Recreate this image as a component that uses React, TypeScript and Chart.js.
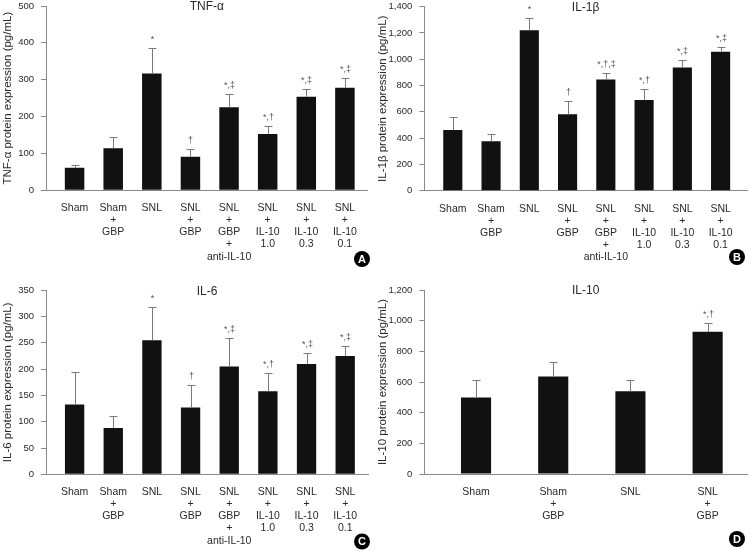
import React, { useEffect, useRef } from "react";
import { Chart, registerables } from "chart.js";

Chart.register(...registerables);

const FONT = '"Liberation Sans Narrow", "Liberation Sans", Arial, sans-serif';
const AXIS = "#8a8a8a";
const TXT = "#2a2a2a";
const ERR = "#7a7a7a";
const BAR = "#111111";

// Categories
const groups8: string[][] = [
  ["Sham"],
  ["Sham", "+", "GBP"],
  ["SNL"],
  ["SNL", "+", "GBP"],
  ["SNL", "+", "GBP", "+", "anti-IL-10"],
  ["SNL", "+", "IL-10", "1.0"],
  ["SNL", "+", "IL-10", "0.3"],
  ["SNL", "+", "IL-10", "0.1"],
];
const groups4: string[][] = [["Sham"], ["Sham", "+", "GBP"], ["SNL"], ["SNL", "+", "GBP"]];

// Panel A: TNF-α
const tnfMean = [61, 114, 317, 91, 225, 153, 254, 278];
const tnfSD = [7, 30, 68, 22, 37, 21, 20, 26];
const tnfSig = ["", "", "*", "†", "*,‡", "*,†", "*,‡", "*,‡"];

// Panel B: IL-1β
const il1bMean = [462, 376, 1220, 581, 847, 690, 938, 1058];
const il1bSD = [96, 53, 94, 99, 46, 81, 59, 38];
const il1bSig = ["", "", "*", "†", "*,†,‡", "*,†", "*,‡", "*,‡"];

// Panel C: IL-6
const il6Mean = [133, 88, 255, 127, 205, 158, 210, 225];
const il6SD = [62, 22, 64, 42, 54, 35, 21, 20];
const il6Sig = ["", "", "*", "†", "*,‡", "*,†", "*,‡", "*,‡"];

// Panel D: IL-10
const il10Mean = [499, 636, 540, 927];
const il10SD = [115, 97, 70, 56];
const il10Sig = ["", "", "", "*,†"];

type PanelCfg = {
  title: string;
  yTitle: string;
  labels: string[][];
  mean: number[];
  sd: number[];
  sig: string[];
  yMax: number;
  yStep: number;
  xMin: number;
  xMax: number;
  barPct: number;
  letter: string;
  x: number;
  y: number;
  w: number;
  h: number;
  yW: number;
  xH: number;
  padTop: number;
  padRight: number;
  letterX: number;
  letterY: number;
};

const panels: PanelCfg[] = [
  {
    title: "TNF-α", yTitle: "TNF-α protein expression (pg/mL)", labels: groups8,
    mean: tnfMean, sd: tnfSD, sig: tnfSig, yMax: 500, yStep: 100,
    xMin: -0.74, xMax: 7.59, barPct: 0.505, letter: "A",
    x: 0, y: 0, w: 375, h: 275, yW: 46, xH: 84.7, padTop: 6, padRight: 7.3, letterX: 362, letterY: 259,
  },
  {
    title: "IL-1β", yTitle: "IL-1β protein expression (pg/mL)", labels: groups8,
    mean: il1bMean, sd: il1bSD, sig: il1bSig, yMax: 1400, yStep: 200,
    xMin: -0.745, xMax: 7.69, barPct: 0.5, letter: "B",
    x: 375, y: 0, w: 376, h: 275, yW: 49.3, xH: 84.3, padTop: 6.7, padRight: 4, letterX: 362, letterY: 257,
  },
  {
    title: "IL-6", yTitle: "IL-6 protein expression (pg/mL)", labels: groups8,
    mean: il6Mean, sd: il6SD, sig: il6Sig, yMax: 350, yStep: 50,
    xMin: -0.74, xMax: 7.59, barPct: 0.5, letter: "C",
    x: 0, y: 275, w: 375, h: 276, yW: 46, xH: 76.7, padTop: 15.3, padRight: 7, letterX: 362, letterY: 266.5,
  },
  {
    title: "IL-10", yTitle: "IL-10 protein expression (pg/mL)", labels: groups4,
    mean: il10Mean, sd: il10SD, sig: il10Sig, yMax: 1200, yStep: 200,
    xMin: -0.67, xMax: 3.51, barPct: 0.39, letter: "D",
    x: 375, y: 275, w: 376, h: 276, yW: 49.3, xH: 77, padTop: 15, padRight: 4, letterX: 362, letterY: 264,
  },
];

function makeOverlay(cfg: PanelCfg) {
  return {
    id: "overlay" + cfg.letter,
    afterDatasetsDraw(chart: any) {
      const { ctx, chartArea, scales } = chart;
      const xs = scales.x;
      const ys = scales.y;
      ctx.save();
      ctx.strokeStyle = ERR;
      ctx.lineWidth = 1;
      ctx.fillStyle = "#555";
      ctx.font = `9px ${FONT}`;
      ctx.textAlign = "center";
      ctx.textBaseline = "bottom";
      cfg.mean.forEach((m, i) => {
        const px = Math.round(xs.getPixelForValue(i)) + 0.5;
        const y0 = ys.getPixelForValue(m);
        const y1 = Math.round(ys.getPixelForValue(m + cfg.sd[i])) + 0.5;
        ctx.beginPath();
        ctx.moveTo(px, y0);
        ctx.lineTo(px, y1);
        ctx.moveTo(px - 4, y1);
        ctx.lineTo(px + 4, y1);
        ctx.stroke();
        if (cfg.sig[i]) {
          ctx.fillText(cfg.sig[i], px, y1 - 4);
        }
      });
      // panel title
      ctx.fillStyle = TXT;
      ctx.font = `12px ${FONT}`;
      ctx.textBaseline = "middle";
      ctx.fillText(cfg.title, (chartArea.left + chartArea.right) / 2, chartArea.top + 1);
      // panel letter
      ctx.fillStyle = "#000";
      ctx.beginPath();
      ctx.arc(cfg.letterX, cfg.letterY, 8, 0, Math.PI * 2);
      ctx.fill();
      ctx.fillStyle = "#fff";
      ctx.font = `bold 11px "Liberation Sans", Arial, sans-serif`;
      ctx.textBaseline = "middle";
      ctx.fillText(cfg.letter, cfg.letterX, cfg.letterY + 0.5);
      ctx.restore();
    },
  };
}

function Panel({ cfg }: { cfg: PanelCfg }) {
  const ref = useRef<HTMLCanvasElement | null>(null);
  useEffect(() => {
    if (!ref.current) return;
    const chart = new Chart(ref.current, {
      type: "bar",
      data: {
        datasets: [
          {
            data: cfg.mean.map((v, i) => ({ x: i, y: v })),
            backgroundColor: BAR,
            borderWidth: 0,
            barPercentage: cfg.barPct,
            categoryPercentage: 1,
          } as any,
        ],
      },
      options: {
        responsive: false,
        animation: false,
        devicePixelRatio: 1,
        layout: { padding: { top: cfg.padTop, right: cfg.padRight, left: 0, bottom: 0 } },
        plugins: {
          legend: { display: false },
          tooltip: { enabled: false },
          title: { display: false },
        },
        scales: {
          x: {
            type: "linear",
            min: cfg.xMin,
            max: cfg.xMax,
            offset: false,
            grid: { display: false, drawTicks: false, offset: false },
            border: { display: true, color: AXIS, width: 1 },
            afterBuildTicks: (s: any) => {
              s.ticks = cfg.labels.map((_, i) => ({ value: i }));
            },
            afterFit: (s: any) => {
              s.height = cfg.xH;
            },
            ticks: {
              autoSkip: false,
              maxRotation: 0,
              minRotation: 0,
              padding: 12,
              color: TXT,
              font: { family: FONT, size: 10.5, lineHeight: 1.15 },
              callback: (v: any) => cfg.labels[Math.round(Number(v))] ?? "",
            },
          },
          y: {
            min: 0,
            max: cfg.yMax,
            afterFit: (s: any) => {
              s.width = cfg.yW;
              s.paddingTop = 0;
              s.paddingBottom = 0;
            },
            ticks: {
              stepSize: cfg.yStep,
              padding: 7,
              color: TXT,
              font: { family: FONT, size: 9.5 },
              callback: (v: any) => Number(v).toLocaleString("en-US"),
            },
            grid: { drawOnChartArea: false, drawTicks: true, tickLength: 5, color: AXIS },
            border: { display: true, color: AXIS, width: 1 },
            title: {
              display: true,
              text: cfg.yTitle,
              color: TXT,
              font: { family: FONT, size: 11.5 },
              padding: { top: 1, bottom: 0 },
            },
          },
        },
      } as any,
      plugins: [makeOverlay(cfg)],
    });
    return () => chart.destroy();
  }, [cfg]);
  return (
    <canvas
      ref={ref}
      width={cfg.w}
      height={cfg.h}
      style={{ position: "absolute", left: cfg.x, top: cfg.y, width: cfg.w, height: cfg.h }}
    />
  );
}

export default function App() {
  return (
    <div style={{ position: "absolute", left: 0, top: 0, width: 751, height: 551, background: "#fff" }}>
      {panels.map((p) => (
        <Panel key={p.letter} cfg={p} />
      ))}
    </div>
  );
}
